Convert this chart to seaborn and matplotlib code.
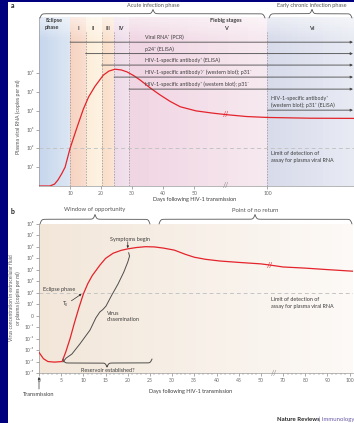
import numpy as np
import seaborn as sns
import matplotlib
matplotlib.use("Agg")
from matplotlib import pyplot as plt
from matplotlib.patches import Rectangle
from matplotlib.colors import to_rgb

W, H = 354, 423

# ---------------- data, panel a (log10 plasma viral RNA) ----------------
a_days = [0, 3.5, 5, 6.1, 7.3, 8.4, 10, 12.2, 14.3, 16, 18, 20.7, 22.5, 24.5, 26.5,
          28.3, 30.5, 32.6, 36, 39, 42.3, 45.5, 50.6, 56, 61, 80, 100, 140, 182]
a_log = [0, 0, 0.1, 0.32, 0.65, 1.0, 2.0, 3.1, 4.1, 4.75, 5.3, 5.9, 6.12, 6.22, 6.18,
         6.08, 5.88, 5.64, 5.2, 4.85, 4.5, 4.22, 4.0, 3.88, 3.8, 3.7, 3.65, 3.61, 3.6]
stage_edges = [0, 10, 15, 20.2, 24.2, 29, 100, 182]
stage_names = ["I", "II", "III", "IV", "V", "VI"]
assay_start = [10, 15, 20.2, 24.2, 29, 100]
assay_labels = ["Viral RNA\u207a (PCR)",
                "p24\u207a (ELISA)",
                "HIV-1-specific antibody\u207a (ELISA)",
                "HIV-1-specific antibody\u207a\u2044\u207b (western blot); p31\u207b",
                "HIV-1-specific antibody\u207a (western blot); p31\u207b",
                "HIV-1-specific antibody\u207a\n(western blot); p31\u207a (ELISA)"]
a_xticks = [10, 20, 30, 40, 50, 100]
a_yexp = [1, 2, 3, 4, 5, 6]

# ---------------- data, panel b (log10 virus concentration) ----------------
b_days = [0, 1, 2, 3.5, 5.2, 6, 7, 8, 9, 10, 11, 12, 13.7, 15, 16.7, 18.5, 20, 22, 24,
          26, 28, 30.5, 33, 35, 37.5, 40.8, 45, 50, 58, 70, 80, 90, 101.5]
b_log = [-3.2, -3.75, -4.0, -4.05, -4.0, -3.2, -2.0, -0.6, 0.7, 1.9, 2.8, 3.5, 4.4, 5.0,
         5.45, 5.7, 5.83, 5.95, 6.02, 6.0, 5.9, 5.72, 5.35, 5.1, 4.92, 4.77, 4.65, 4.52,
         4.42, 4.25, 4.15, 4.02, 3.88]
dissem_days = [5.4, 6.1, 7.4, 9.2, 11.5, 12.8, 13.7, 14.4, 15.1, 16.4, 17.8, 19.1, 20.0, 20.4, 20.2]
dissem_log = [-4.04, -3.7, -3.35, -2.47, -1.25, -0.2, 0.32, 0.54, 0.84, 1.8, 2.76, 3.8, 4.68, 5.2, 5.5]
b_xticks = [0, 5, 10, 15, 20, 25, 30, 35, 40, 45, 50, 70, 80, 90, 100]
b_yexp = list(range(-5, 9))


def sup(n):
    table = str.maketrans("-0123456789", "\u207b\u2070\u00b9\u00b2\u00b3\u2074\u2075\u2076\u2077\u2078\u2079")
    return "10" + str(n).translate(table)


def fwd_a(d):
    d = np.asarray(d, float)
    return np.where(d <= 60, d, 60 + (d - 60) * 0.34)


def inv_a(x):
    x = np.asarray(x, float)
    return np.where(x <= 60, x, 60 + (x - 60) / 0.34)


def fwd_b(d):
    d = np.asarray(d, float)
    return np.where(d <= 50, d, np.where(d <= 70, 50 + (d - 50) * 0.25, 55 + (d - 70) * 0.5))


def inv_b(x):
    x = np.asarray(x, float)
    return np.where(x <= 50, x, np.where(x <= 55, 50 + (x - 50) / 0.25, 70 + (x - 55) / 0.5))


def mix(c0, c1, t):
    a, b = np.array(to_rgb(c0)), np.array(to_rgb(c1))
    return a + (b - a) * t


def gradient_span(ax, d0, d1, c0, c1, fwd, inv, n=14):
    t = np.linspace(fwd(d0), fwd(d1), n + 1)
    d = inv(t)
    for i in range(n):
        ax.axvspan(d[i], d[i + 1], color=mix(c0, c1, i / (n - 1)), lw=0, zorder=0)


def brace(ax, x0, x1, yend, ytip, xtip=None, color="#555555", lw=0.6, beta=1.2):
    if xtip is None:
        xtip = (x0 + x1) / 2

    def half(a, b):
        xs = np.linspace(a, b, 120)
        s = 1 / (1 + np.exp(-beta * (xs - a))) + 1 / (1 + np.exp(-beta * (xs - b))) - 0.5
        return xs, s

    xl, sl = half(x0, xtip)
    xr, sr = half(xtip, x1)
    xs = np.concatenate([xl, xr])
    s = np.concatenate([sl, sr[::-1]])
    ax.plot(xs, yend + (ytip - yend) * s, color=color, lw=lw, solid_capstyle="round")


sns.set_theme(style="white")
plt.rcParams["font.family"] = ["Lato", "DejaVu Sans"]
TXT = "#3d3d3d"
TICK = "#6a6a6a"
RED = "#e4232b"

fig = plt.figure(figsize=(W / 100, H / 100), dpi=100)
fig.patch.set_facecolor("white")


def px_axes(l, t, r, b):
    return fig.add_axes([l / W, 1 - b / H, (r - l) / W, (b - t) / H])


# ====================== panel a ======================
ax = px_axes(39, 17, 354, 186)
ax.set_xscale("function", functions=(fwd_a, inv_a))
ax.set_yscale("log")
ax.set_xlim(0, 182)
ax.set_ylim(1, 1e9)

band_cols = [("#c6d6ec", "#dbe5f3"), ("#f6d3c1", "#f8dccd"), ("#fcedd9", "#fdf2e2"),
             ("#f9dec8", "#fae4d2"), ("#eedbe9", "#f1e1ec"), ("#f0d5e2", "#f6e8ef"),
             ("#d7dbea", "#e8eaf3")]
for i in range(len(stage_edges) - 1):
    gradient_span(ax, stage_edges[i], stage_edges[i + 1], band_cols[i][0], band_cols[i][1],
                  fwd_a, inv_a)
# paler strip behind the stage headers
for k in range(10):
    ax.axhspan(10 ** (9 - 0.12 * k), 10 ** (9 - 0.12 * (k + 1)), color="white",
               alpha=0.5 * (1 - k / 10), lw=0, zorder=0.5)

ax.vlines(stage_edges[1:-1], 1, 10 ** 8.2, colors="#8e8e8e", linestyles=(0, (2, 2)),
          lw=0.5, zorder=1)
ax.axhline(1e2, color="#c4c4c4", ls=(0, (4, 3)), lw=0.7, zorder=1)

sns.lineplot(x=a_days, y=[10 ** v for v in a_log], ax=ax, color=RED, lw=0.9,
             sort=False, estimator=None, zorder=3)

row_exp = [7.66, 7.05, 6.44, 5.80, 5.16, 4.04]
for start, ly in zip(assay_start, row_exp):
    ax.annotate("", xy=(181, 10 ** ly), xytext=(start, 10 ** ly),
                arrowprops=dict(arrowstyle="-|>", color="#4a4a4a", lw=0.6,
                                mutation_scale=3.5, shrinkA=0, shrinkB=0), zorder=4)

ax.set_xticks(a_xticks)
ax.set_xticklabels([str(v) for v in a_xticks])
ax.set_yticks([10.0 ** e for e in a_yexp])
ax.set_yticklabels([sup(e) for e in a_yexp])
ax.minorticks_off()
ax.tick_params(axis="both", labelsize=3.7, colors=TICK, length=2, width=0.4, pad=1.5,
               left=True, bottom=True)
for side in ["top", "right"]:
    ax.spines[side].set_visible(False)
for side in ["left", "bottom"]:
    ax.spines[side].set_color("#9a9a9a")
    ax.spines[side].set_linewidth(0.5)
ax.text(61, 10 ** 3.8, "//", color=RED, fontsize=5, ha="center", va="center", zorder=5)
ax.text(61, 1, "//", color="#8a8a8a", fontsize=5, ha="center", va="center", clip_on=False)

# ====================== panel b ======================
bx = px_axes(39, 224, 353, 373)
bx.set_xscale("function", functions=(fwd_b, inv_b))
bx.set_yscale("log")
bx.set_xlim(0, 101.5)
bx.set_ylim(1e-5, 1e8)
gradient_span(bx, 0, 101.5, "#f2e6d9", "#fcf9f6", fwd_b, inv_b, n=30)
bx.axhline(1e2, color="#c4c4c4", ls=(0, (4, 3)), lw=0.7, zorder=1)

sns.lineplot(x=b_days, y=[10 ** v for v in b_log], ax=bx, color=RED, lw=0.9,
             sort=False, estimator=None, zorder=3)
sns.lineplot(x=dissem_days, y=[10 ** v for v in dissem_log], ax=bx, color="#4d4d4d",
             lw=0.7, sort=False, estimator=None, zorder=3)

bx.set_xticks(b_xticks)
bx.set_xticklabels([str(v) for v in b_xticks])
minor = [d for d in range(0, 51) if d % 5] + [d for d in range(70, 101, 2) if d % 10]
bx.set_xticks(minor, minor=True)
bx.set_yticks([10.0 ** e for e in b_yexp])
bx.set_yticklabels(["0" if e == 0 else sup(e) for e in b_yexp])
bx.yaxis.set_minor_locator(matplotlib.ticker.NullLocator())
bx.tick_params(axis="both", which="major", labelsize=3.7, colors=TICK, length=2,
               width=0.4, pad=1.5, left=True, bottom=True)
bx.tick_params(axis="x", which="minor", colors=TICK, length=1.1, width=0.3, bottom=True)
for side in ["top", "right"]:
    bx.spines[side].set_visible(False)
for side in ["left", "bottom"]:
    bx.spines[side].set_color("#9a9a9a")
    bx.spines[side].set_linewidth(0.5)
bx.text(58, 10 ** 4.42, "//", color=RED, fontsize=5, ha="center", va="center", zorder=5)
bx.text(61.6, 1e-5, "//", color="#8a8a8a", fontsize=5, ha="center", va="center",
        clip_on=False)
bx.annotate("", xy=(20, 10 ** 5.83), xytext=(20, 10 ** 6.45),
            arrowprops=dict(arrowstyle="-|>", color="#333333", lw=0.5, mutation_scale=3,
                            shrinkA=0, shrinkB=0.5))
bx.annotate("", xy=(9.6, 10 ** 1.9), xytext=(7.3, 10 ** 1.3),
            arrowprops=dict(arrowstyle="-|>", color="#333333", lw=0.5, mutation_scale=3,
                            shrinkA=0, shrinkB=0))

# ====================== overlay (text, braces, frame) ======================
ov = fig.add_axes([0, 0, 1, 1])
ov.set_xlim(0, W)
ov.set_ylim(H, 0)
ov.axis("off")
ov.patch.set_alpha(0)
ov.set_zorder(10)

ov.add_patch(Rectangle((0, 0), 8, H, color="#00007f", lw=0))
ov.add_patch(Rectangle((0, 0), W, 2.5, color="#00007f", lw=0))

ov.text(11, 6, "a", fontsize=5, fontweight="bold", color="#222222", ha="left", va="center")
ov.text(11, 211, "b", fontsize=5, fontweight="bold", color="#222222", ha="left", va="center")

# panel a headers
brace(ov, 40, 265, 18, 9.5, xtip=153)
brace(ov, 269, 352, 18, 9.5, xtip=312)
ov.text(153, 5.5, "Acute infection phase", fontsize=4.0, color="#555555", ha="center", va="center")
ov.text(312, 5.5, "Early chronic infection phase", fontsize=4.0, color="#555555",
        ha="center", va="center")
ov.text(45, 24, "Eclipse\nphase", fontsize=4.0, fontweight="bold", color=TXT, ha="left",
        va="center", linespacing=1.3)
for name, xp in zip(stage_names, [78, 93, 107.5, 121, 226, 312]):
    ov.text(xp, 28, name, fontsize=4.0, fontweight="bold", color=TXT, ha="center", va="center")
ov.text(226, 20.5, "Fiebig stages", fontsize=4.0, fontweight="bold", color=TXT,
        ha="center", va="center")

for lab, yp in zip(assay_labels[:5], [37.5, 49, 60.5, 72.5, 84.5]):
    ov.text(145, yp, lab, fontsize=3.8, color=TXT, ha="left", va="center")
ov.text(271, 102, assay_labels[5], fontsize=3.8, color=TXT, ha="left", va="center",
        linespacing=1.3)
ov.text(271, 157, "Limit of detection of\nassay for plasma viral RNA", fontsize=3.9,
        color=TXT, ha="left", va="center", linespacing=1.35)
ov.text(18, 117, "Plasma viral RNA (copies per ml)", fontsize=3.8, color="#555555",
        rotation=90, ha="center", va="center")
ov.text(195, 199, "Days following HIV-1 transmission", fontsize=4.0, color=TXT,
        ha="center", va="center")

# panel b headers and notes
brace(ov, 40, 150, 224, 214.5, xtip=95)
brace(ov, 159, 352, 224, 214.5, xtip=255)
ov.text(95, 210, "Window of opportunity", fontsize=4.2, color="#555555", ha="center", va="center")
ov.text(255, 210, "Point of no return", fontsize=4.2, color="#555555", ha="center", va="center")
ov.text(130, 239, "Symptoms begin", fontsize=4.0, color=TXT, ha="center", va="center")
ov.text(43, 289, "Eclipse phase", fontsize=4.0, color=TXT, ha="left", va="center")
ov.text(65, 304, "T\u2080", fontsize=4.0, color=TXT, ha="center", va="center")
ov.text(107, 316.5, "Virus\ndissemination", fontsize=4.0, color=TXT, ha="left",
        va="center", linespacing=1.25)
brace(ov, 63, 152, 359, 367, xtip=107, color="#4d4d4d", lw=0.7)
ov.text(107.5, 370.5, "Reservoir established?", fontsize=4.0, color=TXT, ha="center",
        va="center")
ov.text(271, 303, "Limit of detection of\nassay for plasma viral RNA", fontsize=3.9,
        color=TXT, ha="left", va="center", linespacing=1.35)
ov.text(15, 298, "Virus concentration in extracellular fluid\nor plasma (copies per ml)",
        fontsize=3.5, color="#555555", rotation=90, ha="center", va="center",
        linespacing=1.3)
ov.text(191, 391, "Days following HIV-1 transmission", fontsize=4.0, color=TXT,
        ha="center", va="center")
ov.annotate("", xy=(39, 377), xytext=(39, 389),
            arrowprops=dict(arrowstyle="-|>", color="#333333", lw=0.5, mutation_scale=3,
                            shrinkA=0, shrinkB=0))
ov.text(39, 394.5, "Transmission", fontsize=4.0, color=TXT, ha="center", va="center")

ov.text(277, 419.5, "Nature Reviews", fontsize=4.3, fontweight="bold", color="#222222",
        ha="left", va="center")
ov.text(319, 419.5, "| Immunology", fontsize=4.3, color="#6b5aa6", ha="left", va="center")

fig.savefig("out.png", dpi=100)
